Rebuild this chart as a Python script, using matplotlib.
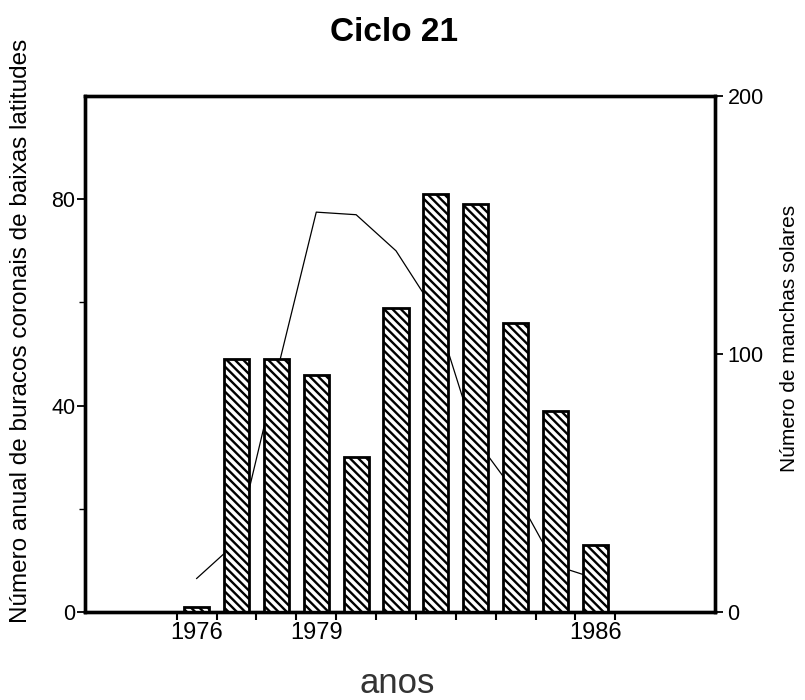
import matplotlib
matplotlib.use("Agg")
import matplotlib.pyplot as plt
from matplotlib.ticker import FixedLocator, NullFormatter

plt.rcParams['font.family'] = ['Liberation Sans', 'DejaVu Sans']
plt.rcParams['hatch.linewidth'] = 1.7

# Annual counts of low-latitude coronal holes (bars, left axis)
years = [1976, 1977, 1978, 1979, 1980, 1981, 1982, 1983, 1984, 1985, 1986]
coronal_holes = [1, 49, 49, 46, 30, 59, 81, 79, 56, 39, 13]

# Annual sunspot number (line, right axis)
sunspots = [13, 27, 92, 155, 154, 140, 116, 67, 46, 18, 13]

year_labels = ['1976', '1979', '1986']
left_ticks = [0, 40, 80]
right_ticks = [0, 100, 200]

fig = plt.figure(figsize=(8.05, 7.0), dpi=100)
ax = fig.add_axes([0.1056, 0.1257, 0.7826, 0.7371])
ax2 = ax.twinx()

# sunspot curve sits behind the bars
ax.set_zorder(ax2.get_zorder() + 1)
ax.patch.set_visible(False)

ax2.plot(years, sunspots, color='black', linewidth=0.9)
ax.bar(years, coronal_holes, width=0.63, facecolor='white',
       edgecolor='black', linewidth=2.0, hatch='\\\\\\\\')

ax.set_xlim(1973.2, 1989.0)
ax.set_ylim(0, 100)
ax2.set_ylim(0, 200)

# year boundaries carry the ticks, labels sit at the year centres
ax.xaxis.set_major_locator(FixedLocator([y + 0.5 for y in range(1975, 1987)]))
ax.xaxis.set_major_formatter(NullFormatter())
ax.set_xticks([int(s) for s in year_labels], minor=True)
ax.set_xticklabels(year_labels, minor=True)
ax.tick_params(axis='x', which='major', direction='out', length=6, width=1.5)
ax.tick_params(axis='x', which='minor', length=0, pad=7, labelsize=17)

ax.set_yticks(left_ticks)
ax.set_yticks([20, 60], minor=True)
ax.tick_params(axis='y', which='major', direction='out', length=6, width=1.3,
               pad=1, labelsize=15.5)
ax.tick_params(axis='y', which='minor', direction='out', length=4, width=1.0)

ax2.set_yticks(right_ticks)
ax2.tick_params(axis='y', direction='out', length=6, width=1.3, pad=3,
                labelsize=15.5)

for a in (ax, ax2):
    for side in ('left', 'right', 'top', 'bottom'):
        a.spines[side].set_linewidth(2.4)
        a.spines[side].set_color('black')

fig.text(0.49, 0.953, 'Ciclo 21', ha='center', va='center',
         fontsize=24, fontweight='bold')
fig.text(0.026, 0.527, 'Número anual de buracos coronais de baixas latitudes',
         rotation=90, ha='center', va='center', fontsize=17.5)
fig.text(0.981, 0.517, 'Número de manchas solares', rotation=90,
         ha='center', va='center', fontsize=15)
fig.text(0.494, 0.024, 'anos', ha='center', va='center', fontsize=25,
         color='#333333')

fig.savefig('out.png', dpi=100)
